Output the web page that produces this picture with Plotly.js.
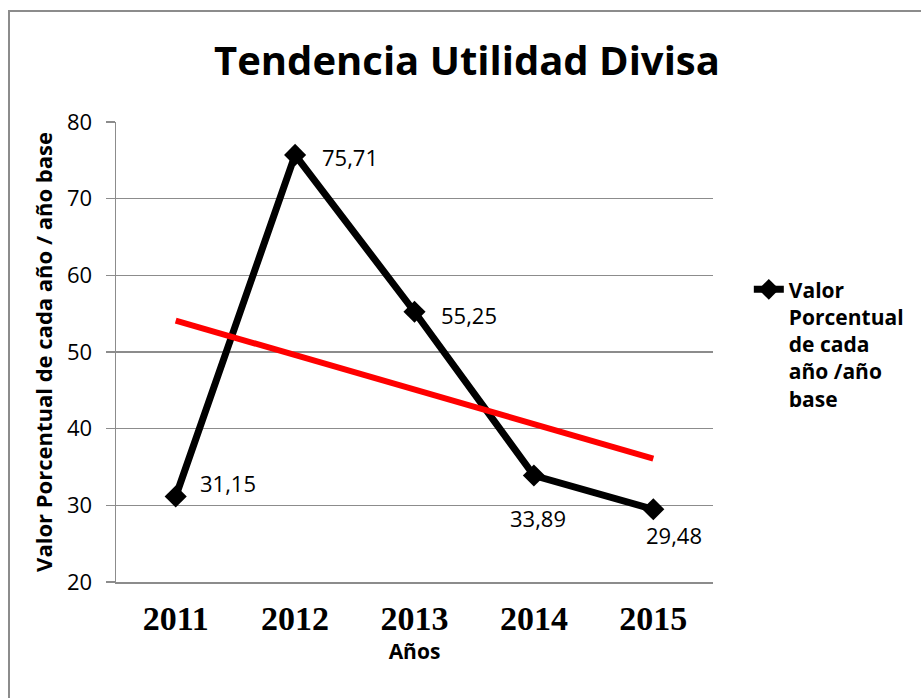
<!DOCTYPE html>
<html>
<head>
<meta charset="utf-8">
<script src="https://cdn.plot.ly/plotly-3.0.1.min.js"></script>
<style>
  html, body { margin: 0; padding: 0; background: #fff; }
  #wrap { position: relative; width: 921px; height: 698px; overflow: hidden; }
  #chart { position: absolute; left: 0; top: 0; width: 921px; height: 698px; }
  #frame { position: absolute; left: 8px; top: 10px; width: 940px; height: 720px;
           border-left: 2px solid #8c8c8c; border-top: 2px solid #8c8c8c; pointer-events: none; }
</style>
</head>
<body>
<div id="wrap">
  <div id="chart"></div>
  <div id="frame"></div>
</div>
<script>
const years = ['2011', '2012', '2013', '2014', '2015'];
const values = [31.15, 75.71, 55.25, 33.89, 29.48];
const trendYears = ['2011', '2015'];
const trendValues = [54.1, 36.1];
const yTicks = [20, 30, 40, 50, 60, 70, 80];
const seriesName = 'Valor<br>Porcentual<br>de cada<br>año /año<br>base';

// label placement (style only)
const labelAnchor = ['left', 'left', 'left', 'center', 'center'];
const labelDx = [22, 25, 24, 4, 21];
const labelDy = [14, -2, -3, -42, -26];

const labels = values.map(v => v.toFixed(2).replace('.', ','));
const FONT = '"Open Sans", sans-serif';

const dataTraces = [
  {
    x: years, y: values, type: 'scatter', mode: 'lines+markers',
    name: seriesName,
    line: { color: '#000000', width: 7 },
    marker: { symbol: 'diamond', size: 17, color: '#000000' }
  },
  {
    x: trendYears, y: trendValues, type: 'scatter', mode: 'lines',
    showlegend: false, hoverinfo: 'skip',
    line: { color: '#ff0000', width: 6 }
  }
];

// category axis: annotation x is the category index
const annotations = years.map((yr, i) => ({
  x: years.indexOf(yr), y: values[i], xref: 'x', yref: 'y',
  text: labels[i], showarrow: false,
  xanchor: labelAnchor[i], yanchor: 'middle',
  xshift: labelDx[i], yshift: labelDy[i],
  font: { family: FONT, size: 22, color: '#000' }
}));

const layout = {
  width: 921, height: 698,
  margin: { l: 116, r: 208, t: 122, b: 116 },
  paper_bgcolor: '#ffffff', plot_bgcolor: '#ffffff',
  title: {
    text: '<b>Tendencia Utilidad Divisa</b>',
    font: { family: FONT, size: 40, color: '#000' },
    x: 0.507, xanchor: 'center', y: 0.912, yanchor: 'middle'
  },
  xaxis: {
    type: 'category', categoryorder: 'array', categoryarray: years,
    range: [-0.5, 4.5],
    showgrid: false, zeroline: false, ticks: '',
    showline: true, linecolor: '#8c8c8c', linewidth: 1.5,
    tickfont: { family: '"Liberation Serif", serif', size: 34, color: '#000', weight: 'bold' },
    ticklabelstandoff: 6,
    title: { text: '<b>Años</b>', font: { family: FONT, size: 21, color: '#000' }, standoff: 6 }
  },
  yaxis: {
    range: [20, 80], tickvals: yTicks, ticktext: yTicks.map(String),
    showgrid: true, gridcolor: '#8c8c8c', gridwidth: 1.5,
    showline: true, linecolor: '#8c8c8c', linewidth: 1.5,
    zeroline: false,
    ticks: 'outside', ticklen: 9, tickcolor: '#8c8c8c', tickwidth: 1.5,
    tickfont: { family: FONT, size: 22, color: '#000' },
    ticklabelstandoff: 9,
    title: { text: '<b>Valor Porcentual de cada año / año base</b>',
             font: { family: FONT, size: 22, color: '#000' }, standoff: 8 }
  },
  annotations: annotations,
  showlegend: true,
  legend: {
    x: 1.06, y: 0.68, xanchor: 'left', yanchor: 'top',
    valign: 'top',
    font: { family: FONT, size: 21, color: '#000', weight: 'bold' },
    bgcolor: 'rgba(0,0,0,0)', itemwidth: 30
  }
};

Plotly.newPlot('chart', dataTraces, layout, { displayModeBar: false, staticPlot: true });
</script>
</body>
</html>
